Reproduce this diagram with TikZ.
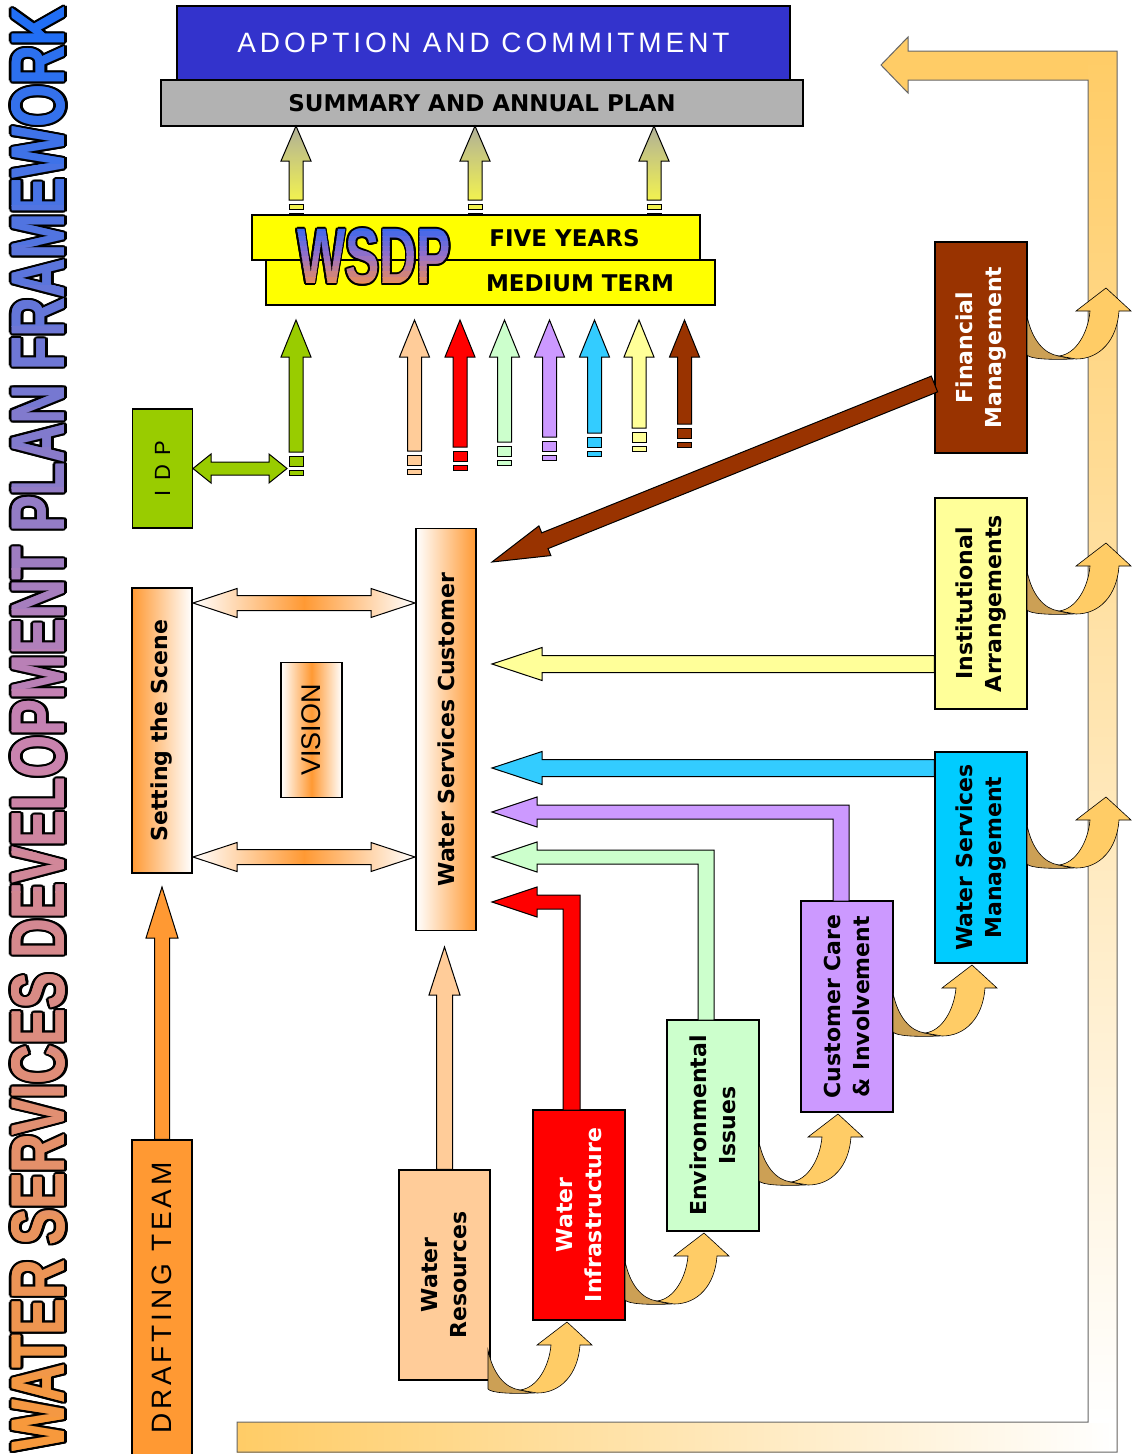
\documentclass[tikz,border=0pt]{standalone}
\usepackage{graphicx}
\usepackage{fontspec}
\setmainfont{DejaVu Sans}
\newfontfamily\arialf{Liberation Sans}
\newfontfamily\arialsp{Liberation Sans}[LetterSpace=14]
\usetikzlibrary{calc}

\definecolor{adblue}{HTML}{3333CC}
\definecolor{sumgray}{HTML}{B2B2B2}
\definecolor{ylw}{HTML}{FFFF00}
\definecolor{idpgreen}{HTML}{99CC00}
\definecolor{orng}{HTML}{FF9933}
\definecolor{peach}{HTML}{FFCC99}
\definecolor{lgreen}{HTML}{CCFFCC}
\definecolor{lpurple}{HTML}{CC99FF}
\definecolor{cyanb}{HTML}{33CCFF}
\definecolor{wsmblue}{HTML}{00CCFF}
\definecolor{lyellow}{HTML}{FFFF99}
\definecolor{fmbrown}{HTML}{993300}
\definecolor{loopor}{HTML}{FFCC66}
\definecolor{curldark}{HTML}{CCA055}
\definecolor{grayhead}{HTML}{B0B098}
\definecolor{tailyel}{HTML}{F2F250}
\definecolor{tailolive}{HTML}{8C8C48}
\definecolor{ttlor}{HTML}{F89A38}
\definecolor{ttlmid}{HTML}{C882B0}
\definecolor{ttlbl}{HTML}{1E6EF5}
\definecolor{wsdpbl}{HTML}{3366F0}
\definecolor{wsdpmid}{HTML}{9670C8}
\definecolor{wsdpor}{HTML}{F5914A}

\newcommand\lblfont{\fontsize{22pt}{29pt}\selectfont\bfseries}
\newcommand\ttltext{\resizebox{1444pt}{53pt}{\arialf\bfseries WATER SERVICES DEVELOPMENT PLAN FRAMEWORK}}
\newcommand\wsdptext{\resizebox{154pt}{55pt}{\arialf\bfseries WSDP}}

\tikzset{
  box/.style={draw=black, line width=1.1pt, rectangle, inner sep=0pt},
  lbl/.style={rotate=90, align=center, inner sep=0pt, font=\lblfont},
  blk/.style={draw=black, line width=1pt, line join=miter},
  curl/.style={draw=black, line width=0.6pt},
}

% straight block arrow from #2 to #3, shaft half width #4, head half width #5, head length #6
\newcommand\blkarrow[6][]{%
  \coordinate (barH) at ($(#3)!#6!(#2)$);
  \draw[#1] ($(#2)!#4!90:(#3)$) -- ($(barH)!#4!90:(#3)$) -- ($(barH)!#5!90:(#3)$) -- (#3)
     -- ($(barH)!#5!-90:(#3)$) -- ($(barH)!#4!-90:(#3)$) -- ($(#2)!#4!-90:(#3)$) -- cycle;}
% horizontal double arrow
\newcommand\dblarrow[7][]{%
  \draw[#1] (#3,#2) -- ({#3+#7},{#2-#6}) -- ({#3+#7},{#2-#5}) -- ({#4-#7},{#2-#5}) -- ({#4-#7},{#2-#6})
     -- (#4,#2) -- ({#4-#7},{#2+#6}) -- ({#4-#7},{#2+#5}) -- ({#3+#7},{#2+#5}) -- ({#3+#7},{#2+#6}) -- cycle;}
% up arrow with broken tail
\newcommand\tailarrow[7][]{%
  \draw[#1] ({#2-7},#5) -- ({#2-7},#4) -- ({#2-15},#4) -- (#2,#3) -- ({#2+15},#4) -- ({#2+7},#4) -- ({#2+7},#5) -- cycle;
  \draw[blk, fill=#7] ({#2-7},{#5+4}) rectangle ({#2+7},{#5+4+#6});
  \draw[blk, fill=#7] ({#2-7},{#5+8+#6}) rectangle ({#2+7},{#5+13+#6});}
% L shaped arrow: up then left
\newcommand\elarrow[6][]{%
  \draw[#1] (#2,#4) -- (#2,{#5+7}) -- ({#6+45},{#5+7}) -- ({#6+45},{#5+15}) -- (#6,#5)
     -- ({#6+45},{#5-15}) -- ({#6+45},{#5-7}) -- (#3,{#5-7}) -- (#3,#4) -- cycle;}
% curved ribbon arrow, tip at (#1,#2)
\newcommand\curlyarr[2]{%
  \begin{scope}[shift={(#1,#2)}]
    \draw[curl, fill=curldark] (-79,28) .. controls (-74,52) and (-62,66) .. (-47,68) -- (-34,71)
       .. controls (-55,72) and (-76,71) .. (-79,67) -- cycle;
    \draw[curl, fill=loopor] (-47,68) .. controls (-30,66) and (-18,45) .. (-16,23) -- (-30,23) -- (0,0)
       -- (25,23) -- (13,23) .. controls (11,52) and (-6,71) .. (-30,71) -- cycle;
  \end{scope}}

\begin{document}
\begin{tikzpicture}[x=1pt,y=-1pt]
\useasboundingbox (0,0) rectangle (1133,1454);
\fill[white] (0,0) rectangle (1133,1454);

% big feedback arrow
\fill[loopor] (237,1422) -- (1088,1422) -- (1088,80) -- (908,80) -- (908,93) -- (881,65) -- (908,37)
   -- (908,51) -- (1117,51) -- (1117,1452) -- (237,1452) -- cycle;
\shade[left color=loopor, right color=white] (237,1422) rectangle (1117,1452);
\shade[top color=loopor, bottom color=white] (1088,51) rectangle (1117,1422);
\draw[black!60, line width=1pt] (237,1422) -- (1088,1422) -- (1088,80) -- (908,80) -- (908,93) -- (881,65)
   -- (908,37) -- (908,51) -- (1117,51) -- (1117,1452) -- (237,1452) -- cycle;

% title: outline then banded gradient fill
\foreach \a [count=\k] in {0,22.5,...,337.5}
  \node[inner sep=0pt, rotate=90, text=black] (ttlo\k) at ({38.5+2.7*cos(\a)},{729+2.7*sin(\a)}) {\ttltext};
\foreach \i in {0,...,17} {
  \pgfmathsetmacro\ya{3+\i*40.4}
  \pgfmathtruncatemacro\pp{(\i+0.5)/18*100}
  \begin{scope}
    \clip (8,\ya) rectangle (69,{\ya+41});
    \foreach \d [count=\m] in {-0.8,0,0.8}
      \node[inner sep=0pt, rotate=90, text=ttlmid!\pp!ttlbl] (ttla\i-\m) at (38.5,{729+\d}) {\ttltext};
  \end{scope}
}
\foreach \i in {0,...,17} {
  \pgfmathsetmacro\ya{3+(\i+18)*40.4}
  \pgfmathtruncatemacro\pp{(\i+0.5)/18*100}
  \begin{scope}
    \clip (8,\ya) rectangle (69,{\ya+41});
    \foreach \d [count=\m] in {-0.8,0,0.8}
      \node[inner sep=0pt, rotate=90, text=ttlor!\pp!ttlmid] (ttlb\i-\m) at (38.5,{729+\d}) {\ttltext};
  \end{scope}
}

% top boxes
\node[box, fill=adblue, minimum width=613pt, minimum height=74pt, text=white,
      font={\arialsp\fontsize{28pt}{28pt}\selectfont}] (adopt) at (483.5,43) {ADOPTION AND COMMITMENT};
\node[box, fill=sumgray, minimum width=642pt, minimum height=46pt,
      font={\fontsize{23pt}{23pt}\selectfont\bfseries}] (summ) at (482,103) {SUMMARY AND ANNUAL PLAN};

% arrows WSDP -> summary
\foreach \xx [count=\k] in {296,475,654} {
  \tailarrow[blk, top color=grayhead, bottom color=tailyel]{\xx}{126}{161}{200}{5}{tailyel}
  \draw[blk, fill=tailolive] ({\xx-7},213) rectangle ({\xx+7},218);
}

% WSDP boxes
\node[box, fill=ylw, minimum width=448pt, minimum height=45pt] (five) at (476,237.5) {};
\node[box, fill=ylw, minimum width=449pt, minimum height=45pt] (medium) at (490.5,282.5) {};
\node[font={\fontsize{23pt}{23pt}\selectfont\bfseries}] (fivet) at (564.5,238) {FIVE YEARS};
\node[font={\fontsize{23pt}{23pt}\selectfont\bfseries}] (mediumt) at (580,283) {MEDIUM TERM};
\foreach \a [count=\k] in {0,30,...,330}
  \node[inner sep=0pt, text=black] (wsdpo\k) at ({374+1.7*cos(\a)},{256.5+1.7*sin(\a)}) {\wsdptext};
\foreach \i in {0,...,5} {
  \pgfmathsetmacro\ya{226+\i*5.1}
  \pgfmathtruncatemacro\pp{(\i+0.5)/6*100}
  \begin{scope}
    \clip (290,\ya) rectangle (458,{\ya+5.6});
    \node[inner sep=0pt, text=wsdpmid!\pp!wsdpbl] (wsdpa\i) at (374,256.5) {\wsdptext};
  \end{scope}
}
\foreach \i in {0,...,5} {
  \pgfmathsetmacro\ya{226+(\i+6)*5.1}
  \pgfmathtruncatemacro\pp{(\i+0.5)/6*100}
  \begin{scope}
    \clip (290,\ya) rectangle (458,{\ya+5.6});
    \node[inner sep=0pt, text=wsdpor!\pp!wsdpmid] (wsdpb\i) at (374,256.5) {\wsdptext};
  \end{scope}
}

% IDP
\node[box, fill=idpgreen, minimum width=60pt, minimum height=119pt] (idp) at (162.5,468.5) {};
\node[rotate=90, inner sep=0pt, font={\arialsp\fontsize{22pt}{22pt}\selectfont}] (idpt) at (idp.center) {I D P};
\dblarrow[blk, fill=idpgreen]{468.5}{193}{287}{6.5}{14.5}{18}
\tailarrow[blk, fill=idpgreen]{296}{320}{357}{452}{10}{idpgreen}

% component arrows into WSDP
\foreach \xx/\bb/\cc in {414.5/451/peach, 460/447/red, 504.5/442/lgreen, 549.5/437/lpurple,
                         594.5/433/cyanb, 639/428/lyellow, 684.5/424/fmbrown}
  {\tailarrow[blk, fill=\cc]{\xx}{320}{357}{\bb}{10}{\cc}}

% left column
\node[box, left color=orng, right color=white, minimum width=60pt, minimum height=285pt] (sts) at (162,730.5) {};
\node[lbl] (stst) at (sts.center) {Setting the Scene};
\node[box, left color=white, right color=white, middle color=orng, minimum width=61pt, minimum height=135pt] (vis) at (311.5,730) {};
\node[rotate=90, inner sep=0pt, font={\arialf\fontsize{27pt}{27pt}\selectfont}] (vist) at (vis.center) {VISION};
\node[box, left color=white, right color=orng, minimum width=60pt, minimum height=402pt] (wsc) at (446,729.5) {};
\node[lbl] (wsct) at (wsc.center) {Water Services Customer};
\node[box, fill=orng, minimum width=60pt, minimum height=320pt] (dt) at (162,1300) {};
\node[rotate=90, inner sep=0pt, font={\arialsp\fontsize{28pt}{28pt}\selectfont}] (dtt) at (162,1298) {DRAFTING TEAM};

\dblarrow[blk, left color=white, right color=white, middle color=orng]{603}{193}{415}{7.5}{14.5}{44}
\dblarrow[blk, left color=white, right color=white, middle color=orng]{857}{193}{415}{7.5}{14.5}{44}

\coordinate (dttip) at (162,887);
\blkarrow[blk, fill=orng]{dt.north}{dttip}{7.5pt}{16pt}{51pt}

% component boxes
\node[box, fill=peach, minimum width=91pt, minimum height=210pt] (wr) at (444.5,1275) {};
\node[box, fill=red, minimum width=92pt, minimum height=210pt] (wi) at (579,1215) {};
\node[box, fill=lgreen, minimum width=92pt, minimum height=211pt] (env) at (713,1125.5) {};
\node[box, fill=lpurple, minimum width=92pt, minimum height=211pt] (cc) at (847,1006.5) {};
\node[box, fill=wsmblue, minimum width=92pt, minimum height=211pt] (wsm) at (981,857.5) {};
\node[box, fill=lyellow, minimum width=92pt, minimum height=211pt] (ia) at (981,603.5) {};
\node[box, fill=fmbrown, minimum width=92pt, minimum height=211pt] (fm) at (981,347.5) {};

\node[lbl] (wrt) at (wr.center) {Water\\Resources};
\node[lbl, text=white] (wit) at (wi.center) {Water\\Infrastructure};
\node[lbl] (envt) at (env.center) {Environmental\\Issues};
\node[lbl] (cct) at (cc.center) {Customer Care\\\& Involvement};
\node[lbl] (wsmt) at (wsm.center) {Water Services\\Management};
\node[lbl] (iat) at (ia.center) {Institutional\\Arrangements};
\node[lbl, text=white] (fmt) at (fm.center) {Financial\\Management};

% arrows into customer box
\coordinate (wrtip) at (444.5,947);
\blkarrow[blk, fill=peach]{wr.north}{wrtip}{8pt}{15.5pt}{48pt}
\elarrow[blk, fill=red]{563}{580}{1110}{902}{492}
\elarrow[blk, fill=lgreen]{698}{714}{1020}{857}{492}
\elarrow[blk, fill=lpurple]{833}{849}{901}{812}{492}
\coordinate (wsmS) at ($(wsm.west)+(0,-89.5)$);
\coordinate (wsmtip) at (492,768);
\blkarrow[blk, fill=cyanb]{wsmS}{wsmtip}{8.5pt}{16.5pt}{50pt}
\coordinate (iaS) at ($(ia.west)+(0,60.5)$);
\coordinate (iatip) at (492,664);
\blkarrow[blk, fill=lyellow]{iaS}{iatip}{8.5pt}{16.5pt}{50pt}
\coordinate (fmS) at ($(fm.west)+(0,36.5)$);
\coordinate (fmtip) at (492,562);
\blkarrow[blk, fill=fmbrown]{fmS}{fmtip}{8.5pt}{16pt}{57pt}

% curled arrows
\curlyarr{567}{1322}
\curlyarr{704}{1233}
\curlyarr{838}{1114}
\curlyarr{972}{965}
\curlyarr{1106}{797}
\curlyarr{1106}{543}
\curlyarr{1106}{288}
\end{tikzpicture}
\end{document}
